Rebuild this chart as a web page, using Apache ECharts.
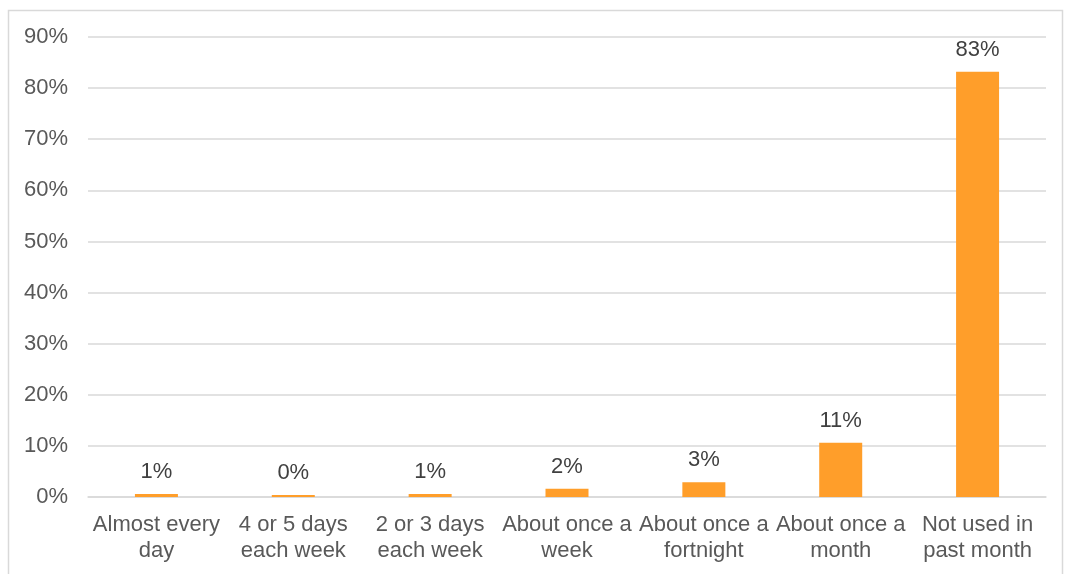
<!DOCTYPE html>
<html>
<head>
<meta charset="utf-8">
<script src="https://cdn.jsdelivr.net/npm/echarts@6/dist/echarts.min.js"></script>
<style>html,body{margin:0;padding:0;background:#fff}#c{width:1065px;height:574px}</style>
</head>
<body>
<div id="c"></div>
<script>
const categories = ["Almost every\nday", "4 or 5 days\neach week", "2 or 3 days\neach week", "About once a\nweek", "About once a\nfortnight", "About once a\nmonth", "Not used in\npast month"];
const values = [0.6, 0.4, 0.6, 1.6, 2.9, 10.6, 83.2];
const yTicks = [0, 10, 20, 30, 40, 50, 60, 70, 80, 90];

const chart = echarts.init(document.getElementById('c'));
const font = '"Liberation Sans", Arial, sans-serif';
chart.setOption({
  animation: false,
  graphic: [{
    type: 'rect', shape: {x: 8.5, y: 10.5, width: 1054, height: 600},
    style: {fill: 'none', stroke: '#d9d9d9', lineWidth: 1.5}, silent: true
  }],
  grid: {left: 88, right: 19, top: 37, bottom: 77},
  xAxis: {
    type: 'category', data: categories,
    axisLine: {lineStyle: {color: '#d9d9d9', width: 1.5}},
    axisTick: {show: false},
    axisLabel: {interval: 0, color: '#595959', fontFamily: font, fontSize: 22, lineHeight: 26, margin: 15}
  },
  yAxis: {
    type: 'value', min: yTicks[0], max: yTicks[yTicks.length - 1], interval: 10,
    axisLine: {show: false}, axisTick: {show: false},
    splitLine: {lineStyle: {color: '#d9d9d9', width: 1.5}},
    axisLabel: {color: '#595959', fontFamily: font, fontSize: 22, margin: 20, formatter: v => v + '%'}
  },
  series: [{
    type: 'bar', data: values, barWidth: 43,
    itemStyle: {color: '#FF9E2A'},
    label: {show: true, position: 'top', distance: 11, color: '#404040', fontFamily: font, fontSize: 22,
      formatter: p => Math.round(p.value) + '%'}
  }]
});
</script>
</body>
</html>
